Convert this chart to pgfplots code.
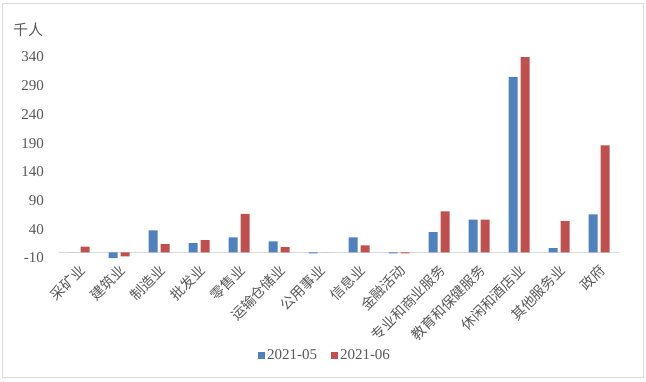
\documentclass[border=0pt]{standalone}
\usepackage{pgfplots}
\pgfplotsset{compat=1.18}
\usepackage{fontspec}
\setmainfont{Liberation Serif}
\newfontfamily\cjk{Noto Sans CJK SC}
\definecolor{sblue}{HTML}{4F81BD}
\definecolor{sred}{HTML}{C0504D}
\definecolor{txt}{HTML}{595959}
\definecolor{frame}{HTML}{D9D9D9}
\begin{document}
\begin{tikzpicture}
\path (0pt,0pt) rectangle (646pt,381pt);
\draw[frame, line width=0.8pt] (2pt,4pt) rectangle (643pt,378pt);
\node[anchor=west, text=txt, inner sep=0pt, font=\cjk\fontsize{15}{15}\selectfont] at (13pt,351pt) {千人};
\begin{axis}[
  at={(59pt,123pt)}, anchor=south west,
  scale only axis, width=560pt, height=201pt,
  xmin=-0.5, xmax=13.5, ymin=-10, ymax=340,
  ytick={-10,40,90,140,190,240,290,340},
  xtick={0,...,13},
  xticklabels={采矿业,建筑业,制造业,批发业,零售业,运输仓储业,公用事业,信息业,金融活动,专业和商业服务,教育和保健服务,休闲和酒店业,其他服务业,政府},
  axis line style={draw=none},
  major tick length=0pt,
  tick label style={text=txt},
  yticklabel style={font=\fontsize{15}{15}\selectfont, anchor=east, inner sep=0pt, xshift=-15pt},
  xticklabel style={font=\cjk\fontsize{14}{14}\selectfont, xshift=4pt, yshift=-10pt, rotate=45, anchor=east, inner sep=0pt},
  /pgf/number format/assume math mode=true,
  ybar, bar width=9pt,
  legend style={at={(266pt,-97pt)}, anchor=center, draw=none, fill=none,
    legend columns=2, font=\fontsize{15}{15}\selectfont, text=txt,
    /tikz/every even column/.append style={column sep=12pt}},
  legend image code/.code={\fill[#1] (0pt,-3.5pt) rectangle (7pt,3.5pt);},
]
\draw[frame, line width=1pt] (axis cs:-0.55,0) -- (axis cs:13.55,0);
\addplot[fill=sblue, draw=none, bar shift=-6pt] coordinates {
(0,0) (1,-10) (2,38) (3,16) (4,26) (5,19) (6,-2) (7,26) (8,-2) (9,35) (10,57) (11,305) (12,7) (13,66)};
\addplot[fill=sred, draw=none, bar shift=6pt] coordinates {
(0,10) (1,-7) (2,14) (3,21) (4,67) (5,9) (6,0) (7,12) (8,-2) (9,71) (10,57) (11,341) (12,54) (13,186)};
\legend{2021-05,2021-06}
\end{axis}
\end{tikzpicture}
\end{document}
